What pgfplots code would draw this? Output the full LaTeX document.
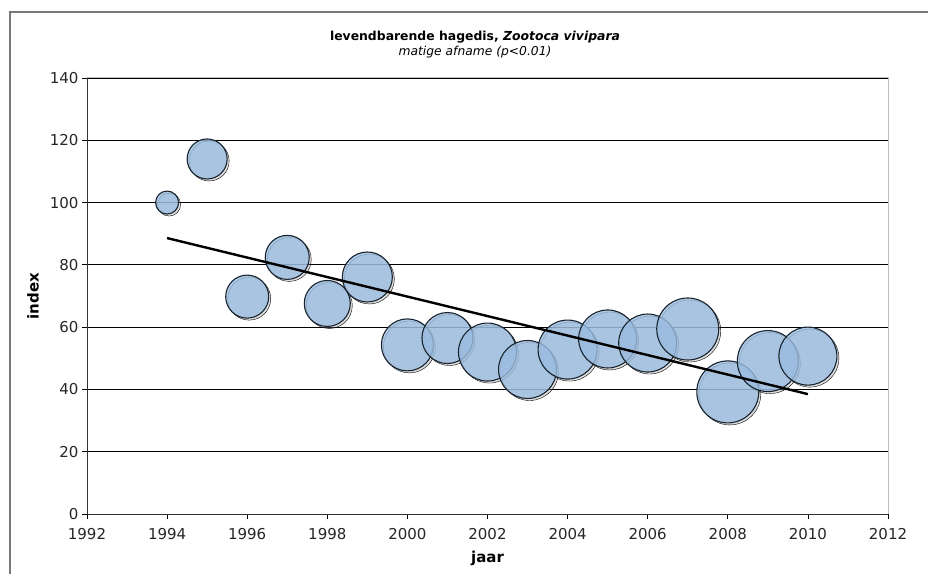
\documentclass[border=0pt]{standalone}
\usepackage{fontspec}
\setmainfont{DejaVu Sans}
\usepackage{pgfplots}
\usepackage{pgfplotstable}
\pgfplotsset{compat=1.18}
\definecolor{bubble}{RGB}{155,189,225}
\definecolor{bubbleedge}{RGB}{25,35,45}
\definecolor{framegray}{RGB}{120,120,120}
\definecolor{plotborder}{RGB}{190,190,190}
\definecolor{shadowgray}{RGB}{150,150,150}

\pgfplotstableread{
year idx sz
1994 100.0 11.5
1995 114.0 20
1996 69.8 21.5
1997 82.4 22
1998 67.6 23
1999 76.1 25
2000 54.3 26
2001 56.5 25.5
2002 52.0 29
2003 46.4 29
2004 52.8 29.5
2005 56.2 29
2006 54.9 29
2007 59.4 31
2008 39.2 31
2009 49.1 30.5
2010 50.7 29
}\bubbles

\begin{document}
\begin{tikzpicture}
\useasboundingbox (-87pt,-59pt) rectangle (841pt,514pt);
\draw[framegray, line width=1.2pt] (-77pt,-70pt) -- (-77pt,502pt) -- (850pt,502pt);
\begin{axis}[
  at={(0pt,0pt)}, anchor=south west,
  scale only axis, width=801pt, height=436pt,
  xmin=1992, xmax=2012, ymin=0, ymax=140,
  xtick={1992,1994,...,2012}, ytick={0,20,...,140},
  /pgf/number format/1000 sep={},
  /pgf/number format/assume math mode=true,
  tick label style={font=\fontsize{15}{18}\selectfont, text=black!85},
  xticklabel style={yshift=-6pt},
  axis lines*=left,
  axis line style={black!80, line width=0.9pt},
  tick align=outside, major tick length=5pt,
  tick style={black, line width=0.8pt},
  ymajorgrids, grid style={black, line width=0.8pt},
  clip=false, clip marker paths=true,
  xlabel={jaar}, ylabel={index},
  label style={font=\fontsize{15}{18}\selectfont\bfseries},
  xlabel style={at={(axis description cs:0.5,-0.101)}, anchor=center},
  ylabel style={at={(axis description cs:-0.0674,0.5)}, anchor=center},
  after end axis/.code={
    \draw[plotborder, line width=1pt] (rel axis cs:0,1) -- (rel axis cs:1,1) -- (rel axis cs:1,0);
  },
]
% shadows
\addplot[scatter, only marks, mark=*,
  mark options={xshift=2pt, yshift=-2pt},
  scatter/use mapped color={draw=none, fill=shadowgray, fill opacity=0.3},
  visualization depends on={\thisrow{sz} \as \perpointmarksize},
  scatter/@pre marker code/.append style={/tikz/mark size=\perpointmarksize}]
  table[x=year, y=idx] {\bubbles};
% bubbles
\addplot[scatter, only marks, mark=*,
  scatter/use mapped color={draw=bubbleedge, fill=bubble, fill opacity=0.8, line width=1.1pt},
  visualization depends on={\thisrow{sz} \as \perpointmarksize},
  scatter/@pre marker code/.append style={/tikz/mark size=\perpointmarksize}]
  table[x=year, y=idx] {\bubbles};
% trend line
\addplot[black, line width=2.4pt] coordinates {(1994,88.6) (2010,38.5)};
\end{axis}
\node[font=\fontsize{12.4}{14}\selectfont\bfseries] at (388pt,477pt) {levendbarende hagedis, \textit{Zootoca vivipara}};
\node[font=\fontsize{12.3}{14}\selectfont\itshape] at (388pt,462pt) {matige afname (p<0.01)};
\end{tikzpicture}
\end{document}
